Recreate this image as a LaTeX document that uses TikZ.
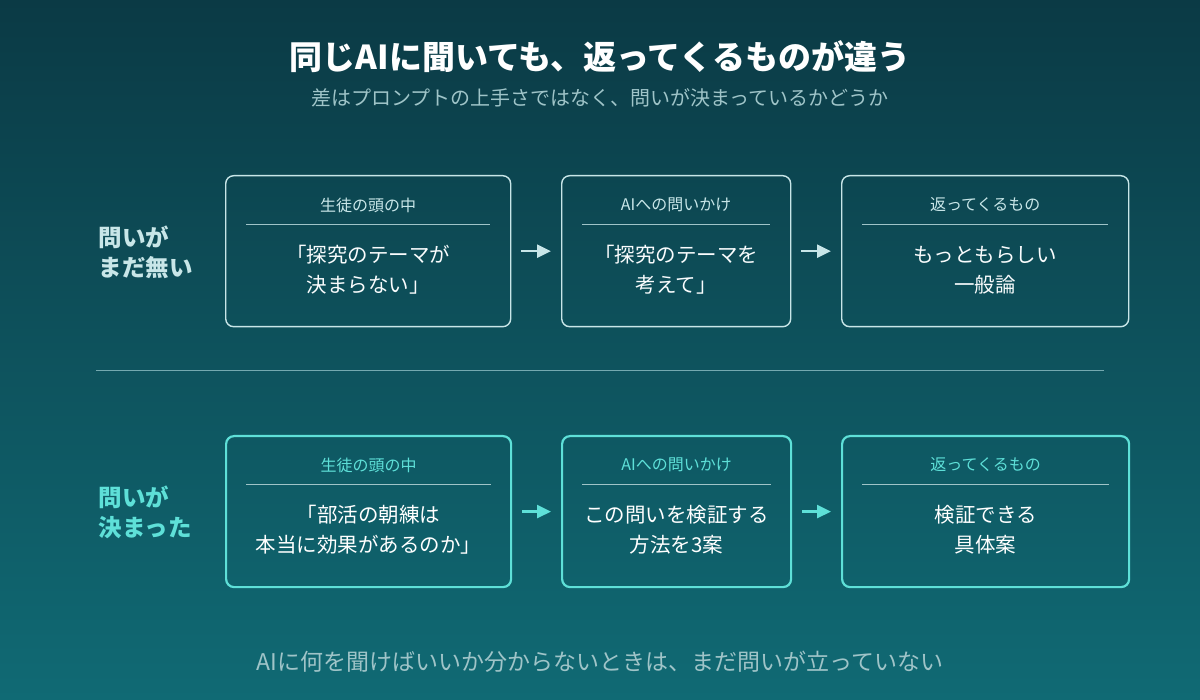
\documentclass[tikz,border=0pt]{standalone}
\usepackage{fontspec}
\setmainfont{Noto Sans CJK JP}
\usetikzlibrary{arrows.meta,positioning}
\definecolor{bgtop}{HTML}{0B3A45}
\definecolor{bgbot}{HTML}{106A74}
\definecolor{pale}{HTML}{C8E6E8}
\definecolor{aqua}{HTML}{5EE0D8}
\definecolor{soft}{HTML}{9FC4C8}
\begin{document}
\begin{tikzpicture}[x=1pt,y=-1pt,>={Triangle[length=14pt,width=13pt]}]
		\tikzset{box/.style={draw, rounded corners=8pt, line width=1.4pt, minimum height=151pt, anchor=north west},
			head/.style={font=\fontsize{16}{18}\selectfont},
			body/.style={font=\fontsize{20.5}{30}\selectfont, text=white!90!pale, align=center},
			side/.style={font=\fontsize{23.5}{30}\bfseries\selectfont, align=left, anchor=west},
			flow/.style={->, line width=2.5pt, shorten <=10pt, shorten >=10pt}}

		\shade[top color=bgtop, bottom color=bgbot] (0,0) rectangle (1200,700);
		\node (title) at (600,57) [font=\fontsize{33}{38}\bfseries\selectfont, text=white] {同じAIに聞いても、返ってくるものが違う};
		\node (sub) at (600,98) [font=\fontsize{20}{24}\selectfont, text=soft] {差はプロンプトの上手さではなく、問いが決まっているかどうか};

		% row without a question
		\node [side, text=pale] (q1) at (95,252) {問いが\\まだ無い};
		\node [box, draw=pale, minimum width=285pt] (a1) at (225,175) {};
		\node [box, draw=pale, minimum width=229pt] (a2) at (561,175) {};
		\node [box, draw=pale, minimum width=287pt] (a3) at (841,175) {};
		\draw [flow, pale] (a1) -- (a2);
		\draw [flow, pale] (a2) -- (a3);
		\node [head, text=pale] at (a1.north |- 0,205) {生徒の頭の中};
		\node [head, text=pale] at (a2.north |- 0,205) {AIへの問いかけ};
		\node [head, text=pale] at (a3.north |- 0,205) {返ってくるもの};
		\foreach \b in {a1,a2,a3}
			\draw [soft, line width=0.6pt] ([xshift=21pt]\b.west |- 0,224) -- ([xshift=-21pt]\b.east |- 0,224);
		\node [body] at (a1.north |- 0,270) {「探究のテーマが\\決まらない」};
		\node [body] at (a2.north |- 0,270) {「探究のテーマを\\考えて」};
		\node [body] at (a3.north |- 0,270) {もっともらしい\\一般論};

		\draw [soft!70!bgbot, line width=0.8pt] (96,370) -- (1104,370);

		% row with a question
		\node [side, text=aqua] (q2) at (95,512) {問いが\\決まった};
		\node [box, draw=aqua, line width=2.2pt, minimum width=285pt] (b1) at (225,435) {};
		\node [box, draw=aqua, line width=2.2pt, minimum width=229pt] (b2) at (561,435) {};
		\node [box, draw=aqua, line width=2.2pt, minimum width=287pt] (b3) at (841,435) {};
		\draw [flow, aqua] (b1) -- (b2);
		\draw [flow, aqua] (b2) -- (b3);
		\node [head, text=aqua] at (b1.north |- 0,465) {生徒の頭の中};
		\node [head, text=aqua] at (b2.north |- 0,465) {AIへの問いかけ};
		\node [head, text=aqua] at (b3.north |- 0,465) {返ってくるもの};
		\foreach \b in {b1,b2,b3}
			\draw [soft, line width=0.6pt] ([xshift=21pt]\b.west |- 0,484) -- ([xshift=-21pt]\b.east |- 0,484);
		\node [body, text=white] at (b1.north |- 0,530) {「部活の朝練は\\本当に効果があるのか」};
		\node [body, text=white] at (b2.north |- 0,530) {この問いを検証する\\方法を3案};
		\node [body, text=white] at (b3.north |- 0,530) {検証できる\\具体案};

		\node (foot) at (600,662) [font=\fontsize{23}{26}\selectfont, text=soft] {AIに何を聞けばいいか分からないときは、まだ問いが立っていない};
	\end{tikzpicture}
\end{document}
